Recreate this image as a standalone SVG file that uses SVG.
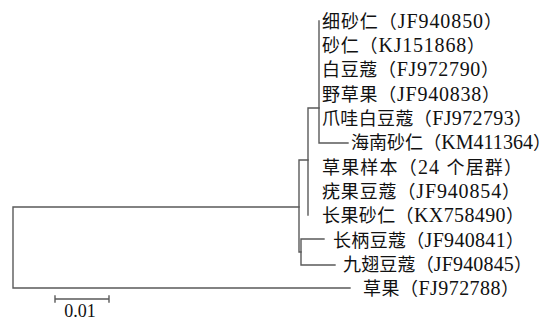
<svg xmlns="http://www.w3.org/2000/svg" width="553" height="321" viewBox="0 0 553 321">
<style>
.e{stroke:#5a5a5a;stroke-width:1.4;fill:none;stroke-linecap:square}
.t{font-family:"Liberation Serif","Noto Sans CJK SC",serif;font-size:18px;fill:#111}
.t tspan{font-family:"Liberation Serif",serif;font-size:20px}
.s{font-family:"Liberation Serif",serif;font-size:18px;fill:#111}
</style>
<rect width="553" height="321" fill="#fff"/>
<g id="connectors">
<path class="e" d="M13,207 V288 M13,207 H299 M13,288 H350"/>
<path class="e" d="M299,160 V252 M299,160 H308 M299,252 H301"/>
<path class="e" d="M301,239 V265 M301,239 H324 M301,265 H335"/>
<path class="e" d="M308,108 V215 M308,108 H319"/>
<path class="e" d="M319,21 V143 M319,143 H348"/>
</g>
<g id="n1"><text class="t" x="322" y="27.8" textLength="180" lengthAdjust="spacing">细砂仁（<tspan>JF940850</tspan>）</text></g>
<g id="n2"><text class="t" x="322" y="52.1" textLength="163" lengthAdjust="spacing">砂仁（<tspan>KJ151868</tspan>）</text></g>
<g id="n3"><text class="t" x="322" y="76.4" textLength="177" lengthAdjust="spacing">白豆蔻（<tspan>FJ972790</tspan>）</text></g>
<g id="n4"><text class="t" x="322" y="100.7" textLength="178" lengthAdjust="spacing">野草果（<tspan>JF940838</tspan>）</text></g>
<g id="n5"><text class="t" x="322" y="125" textLength="210" lengthAdjust="spacing">爪哇白豆蔻（<tspan>FJ972793</tspan>）</text></g>
<g id="n6"><text class="t" x="351" y="149.3" textLength="200" lengthAdjust="spacing">海南砂仁（<tspan>KM411364</tspan>）</text></g>
<g id="n7"><text class="t" x="322" y="173.6" textLength="200" lengthAdjust="spacing">草果样本（<tspan>24 </tspan>个居群）</text></g>
<g id="n8"><text class="t" x="322" y="197.9" textLength="198" lengthAdjust="spacing">疣果豆蔻（<tspan>JF940854</tspan>）</text></g>
<g id="n9"><text class="t" x="322" y="222.2" textLength="202" lengthAdjust="spacing">长果砂仁（<tspan>KX758490</tspan>）</text></g>
<g id="n10"><text class="t" x="333" y="246.5" textLength="191" lengthAdjust="spacing">长柄豆蔻（<tspan>JF940841</tspan>）</text></g>
<g id="n11"><text class="t" x="343" y="270.8" textLength="189" lengthAdjust="spacing">九翅豆蔻（<tspan>JF940845</tspan>）</text></g>
<g id="n12"><text class="t" x="363" y="295.1" textLength="156" lengthAdjust="spacing">草果（<tspan>FJ972788</tspan>）</text></g>
<g id="scale">
<path class="e" d="M55,299 H109 M55,296 V302 M109,296 V302"/>
<text class="s" x="80" y="317" text-anchor="middle">0.01</text>
</g>
</svg>
